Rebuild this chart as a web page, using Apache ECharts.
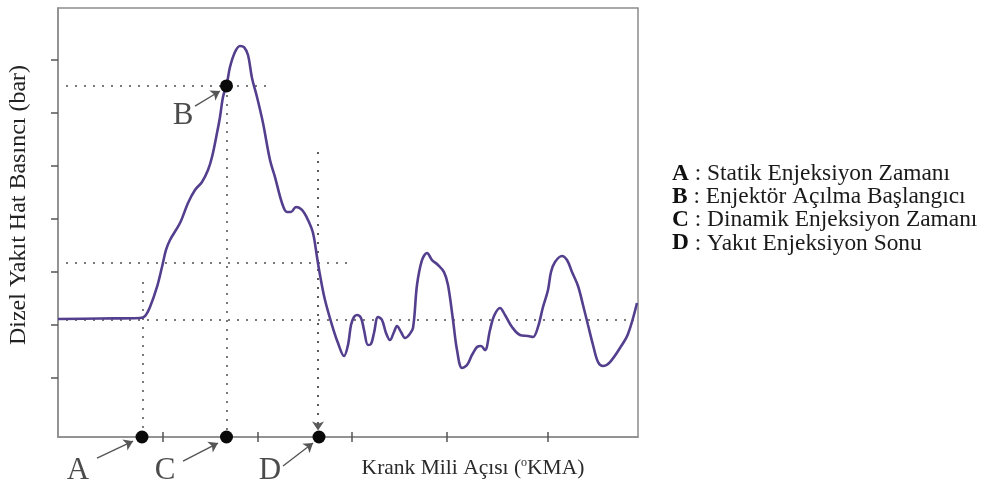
<!DOCTYPE html>
<html>
<head>
<meta charset="utf-8">
<script src="https://cdn.jsdelivr.net/npm/echarts@6/dist/echarts.min.js"></script>
<style>
html,body{margin:0;padding:0;background:#fff;}
#c{width:996px;height:490px;}
</style>
</head>
<body>
<div id="c"></div>
<script>
// Crank angle (arbitrary units) and line pressure (bar-like units)
const crankAngle = [0,4.2,8.2,8.7,9.2,9.9,10.4,10.8,11.2,12.2,13.0,13.7,14.4,15.0,15.4,15.9,16.2,16.5,16.9,17.2,17.7,18.2,18.6,19.0,19.4,19.9,20.5,21.2,21.7,22.4,22.9,23.3,23.8,24.4,25.0,25.5,25.9,26.2,26.7,27.4,28.0,28.6,29.0,29.3,29.6,29.9,30.3,30.6,31.0,31.3,31.6,32.0,32.4,32.8,33.2,33.6,33.9,34.3,34.7,35.1,35.5,35.9,36.4,36.9,37.4,38.0,38.6,39.0,39.5,39.9,40.4,40.9,41.4,41.9,42.3,42.7,43.2,43.6,44.2,44.7,45.4,46.2,47.0,47.5,48.0,48.5,49.0,49.3,49.7,50.4,50.9,51.4,52.0,52.5,53.0,53.5,54.0,54.5,55.2,56.2,57.0,57.9];
const linePressure = [110.0,110.5,111.0,112.8,121.2,139.9,158.5,174.4,183.7,199.5,218.2,230.3,237.8,249.0,261.1,283.4,298.4,317.0,330.1,345.0,359.0,364.6,363.6,356.2,334.7,317.0,292.8,258.3,242.4,218.2,209.8,209.8,214.5,211.7,202.3,190.2,167.8,151.0,127.7,104.4,87.6,75.5,85.8,104.4,111.9,113.8,111.0,99.8,85.8,86.7,97.0,111.9,109.1,97.0,90.4,97.9,103.5,97.9,92.3,95.1,101.6,141.7,165.0,171.6,165.0,160.4,153.8,141.7,109.1,81.1,64.3,67.1,76.5,83.9,84.8,81.1,99.8,112.8,120.3,113.8,102.6,95.1,94.2,93.2,102.6,121.2,137.1,153.8,163.2,168.8,165.0,153.8,140.8,123.1,104.4,85.8,69.9,66.2,69.9,83.0,96.0,124.9];

// Axis extents and tick positions (no tick labels in the picture)
const xMin = 0, xMax = 58;
const yMin = 0, yMax = 400;
const xTicks = [10.5, 20.0, 29.4, 38.9, 49.0];
const yTicks = [55.0, 104.4, 153.8, 203.3, 252.7, 302.1, 351.5];

// Event points: A static injection, B injector opening, C dynamic injection, D end of injection
const eventNames = ['A', 'B', 'C', 'D'];
const eventX = [8.4, 16.85, 16.85, 26.1];
const eventY = [0, 327.3, 0, 0];

// Guide (dotted) lines: [x1, y1, x2, y2]
const guideLines = [
  [0.8, 327.3, 21.4, 327.3],
  [0.8, 162.2, 29.3, 162.2],
  [0.8, 109.1, 57.6, 109.1],
  [8.5, 144.5, 8.5, 0],
  [16.85, 327.3, 16.85, 0]
];
const guideArrowLine = [26.0, 265.7, 26.0, 6.0];

// Letter labels and their pointer arrows
const letterX = [2.0, 12.5, 10.7, 21.2];
const letterY = [-31.5, 299.3, -31.5, -31.5];
const pointerArrows = [
  [3.9, -19.6, 7.5, -3.9],
  [13.7, 308.6, 16.2, 322.6],
  [12.5, -22.4, 16.0, -5.6],
  [22.5, -27.0, 25.5, -5.6]
];

const legendLines = [
  ['A', 'Statik Enjeksiyon Zamanı'],
  ['B', 'Enjektör Açılma Başlangıcı'],
  ['C', 'Dinamik Enjeksiyon Zamanı'],
  ['D', 'Yakıt Enjeksiyon Sonu']
];
const yTitle = 'Dizel Yakıt Hat Basıncı (bar)';
const xTitleA = 'Krank Mili Açısı (';
const xTitleB = 'KMA)';

const SERIF = '"Liberation Serif", "DejaVu Serif", serif';
const chart = echarts.init(document.getElementById('c'), null, {renderer: 'canvas'});

const graphic = [];
legendLines.forEach((l, i) => {
  graphic.push({
    type: 'text', x: 672, y: 173.5 + i * 23.3,
    style: {
      text: '{b|' + l[0] + '} : ' + l[1],
      font: '23.4px ' + SERIF, fill: '#1a1a1a', verticalAlign: 'middle',
      rich: { b: { fontWeight: 'bold', fontSize: 23.4, fontFamily: SERIF, fill: '#111' } }
    }
  });
});
graphic.push({
  type: 'text', x: 19, y: 205, rotation: Math.PI / 2,
  style: { text: yTitle, font: '24px ' + SERIF, fill: '#222', align: 'center', verticalAlign: 'middle' }
});
graphic.push({
  type: 'text', x: 473, y: 468,
  style: {
    text: xTitleA + '{sup|o}' + xTitleB,
    font: '21.5px ' + SERIF, fill: '#2a2a2a', align: 'center', verticalAlign: 'middle',
    rich: { sup: { fontSize: 12, fontFamily: SERIF, fill: '#2a2a2a', verticalAlign: 'top', padding: [0, 0, 9, 0] } }
  }
});

const option = {
  animation: false,
  backgroundColor: '#fff',
  grid: { left: 58, top: 8, right: 358, bottom: 53, show: true, borderColor: '#8c8c8c', borderWidth: 1.5, backgroundColor: 'transparent' },
  xAxis: [
    { type: 'value', min: xMin, max: xMax, position: 'bottom',
      axisLine: { show: true, lineStyle: { color: '#8c8c8c', width: 1.5 } },
      axisTick: { show: true, inside: false, length: 5, customValues: xTicks, lineStyle: { color: '#555', width: 1.5 } },
      axisLabel: { show: false }, splitLine: { show: false } },
    { type: 'value', min: xMin, max: xMax, position: 'bottom',
      axisLine: { show: false },
      axisTick: { show: true, inside: true, length: 5, customValues: xTicks, lineStyle: { color: '#555', width: 1.5 } },
      axisLabel: { show: false }, splitLine: { show: false } }
  ],
  yAxis: {
    type: 'value', min: yMin, max: yMax,
    axisLine: { show: true, lineStyle: { color: '#8c8c8c', width: 1.5 } },
    axisTick: { show: true, inside: false, length: 7, customValues: yTicks, lineStyle: { color: '#555', width: 1.5 } },
    axisLabel: { show: false }, splitLine: { show: false }
  },
  graphic: graphic,
  series: [
    {
      type: 'lines', coordinateSystem: 'cartesian2d', clip: false, z: 2,
      symbol: ['none', 'none'],
      lineStyle: { color: '#7a7a7a', width: 2, type: [2, 7], cap: 'butt', opacity: 1 },
      data: guideLines.map(g => ({ coords: [[g[0], g[1]], [g[2], g[3]]] }))
    },
    {
      type: 'lines', coordinateSystem: 'cartesian2d', clip: false, z: 2,
      symbol: ['none', 'arrow'], symbolSize: 9,
      lineStyle: { color: '#5a5a5a', width: 2, type: [2, 7], cap: 'butt', opacity: 1 },
      data: [{ coords: [[guideArrowLine[0], guideArrowLine[1]], [guideArrowLine[2], guideArrowLine[3]]] }]
    },
    {
      type: 'line', xAxisIndex: 0, smooth: 0.35, showSymbol: false, z: 3,
      lineStyle: { color: '#533f8d', width: 2.6 },
      data: crankAngle.map((x, i) => [x, linePressure[i]])
    },
    {
      type: 'lines', coordinateSystem: 'cartesian2d', clip: false, z: 4,
      symbol: ['none', 'arrow'], symbolSize: 9,
      lineStyle: { color: '#555', width: 1.4, opacity: 1 },
      data: pointerArrows.map(a => ({ coords: [[a[0], a[1]], [a[2], a[3]]] }))
    },
    {
      type: 'scatter', clip: false, z: 5, symbol: 'circle', symbolSize: 13,
      itemStyle: { color: '#0a0a0a', opacity: 1 },
      data: eventX.map((x, i) => [x, eventY[i]])
    },
    {
      type: 'scatter', clip: false, z: 5, symbolSize: 1, itemStyle: { color: 'transparent' },
      label: { show: true, position: 'inside', formatter: p => eventNames[p.dataIndex],
        fontFamily: SERIF, fontSize: 31, color: '#1e1e1e' },
      data: letterX.map((x, i) => [x, letterY[i]])
    }
  ]
};
chart.setOption(option);
</script>
</body>
</html>
